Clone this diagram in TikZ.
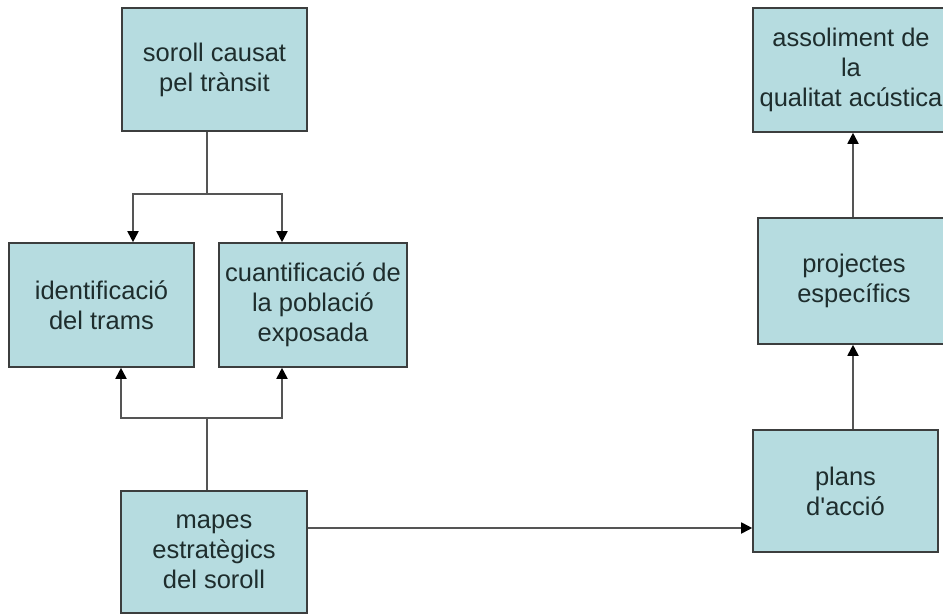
\documentclass[tikz,border=0pt]{standalone}
\usepackage{fontspec}
\setmainfont{Liberation Sans}[Ligatures=TeXOff]
\usetikzlibrary{arrows.meta}
\definecolor{caixablau}{RGB}{182,220,224}
\definecolor{vora}{RGB}{60,62,62}
\definecolor{grislinia}{RGB}{85,85,85}
\definecolor{lletra}{RGB}{30,45,45}
\tikzset{
  caixa/.style={draw=vora, line width=1.6pt, fill=caixablau, text=lletra, align=center,
    font=\fontsize{25.5}{30}\selectfont, inner sep=0pt},
  linia/.style={draw=grislinia, line width=1.8pt},
  fletxa/.style={linia, -{Triangle[length=11pt, width=11pt, color=black]}}
}

\begin{document}
\begin{tikzpicture}[x=1pt, y=-1pt]
\useasboundingbox (0,0) rectangle (943,615);
\clip (0,0) rectangle (943,615);

% esquerra
\node (soroll) at (214.5,69.5)[caixa, minimum width=185pt, minimum height=123pt]{soroll causat\\pel trànsit};
\node (trams) at (101.5,305)[caixa, minimum width=185pt, minimum height=124pt]{identificació\\del trams};
\node (poblacio) at (313,305)[caixa, minimum width=188pt, minimum height=124pt]{cuantificació de\\la població\\exposada};
\node (mapes) at (214,552)[caixa, minimum width=186pt, minimum height=122pt]{mapes\\estratègics\\del soroll};

% dreta
\node (plans) at (845.5,491)[caixa, minimum width=185pt, minimum height=122pt]{plans\\d'acció};
\node (projectes) at (854,281)[caixa, minimum width=192pt, minimum height=126pt]{projectes\\específics};
\node (assoliment) at (851,70)[caixa, minimum width=196pt, minimum height=124pt]{assoliment de\\la\\qualitat acústica};

\coordinate (dalt) at (207,194);
\coordinate (e1) at (133,194);
\coordinate (e2) at (282,194);
\draw[linia] (soroll.south -| dalt) -- (dalt);
\draw[fletxa] (dalt) -| (e1 |- trams.north);
\draw[fletxa] (dalt) -| (e2 |- poblacio.north);

\coordinate (baix) at (207,418);
\coordinate (s1) at (121,418);
\coordinate (s2) at (282,418);
\draw[linia] (mapes.north -| baix) -- (baix);
\draw[fletxa] (baix) -| (s1 |- trams.south);
\draw[fletxa] (baix) -| (s2 |- poblacio.south);

\coordinate (entrada) at (752,528);
\draw[fletxa] (mapes.east |- entrada) -- (plans.west |- entrada);

\coordinate (eix) at (853,0);
\draw[fletxa] (plans.north -| eix) -- (projectes.south -| eix);
\draw[fletxa] (projectes.north -| eix) -- (assoliment.south -| eix);
\end{tikzpicture}
\end{document}
